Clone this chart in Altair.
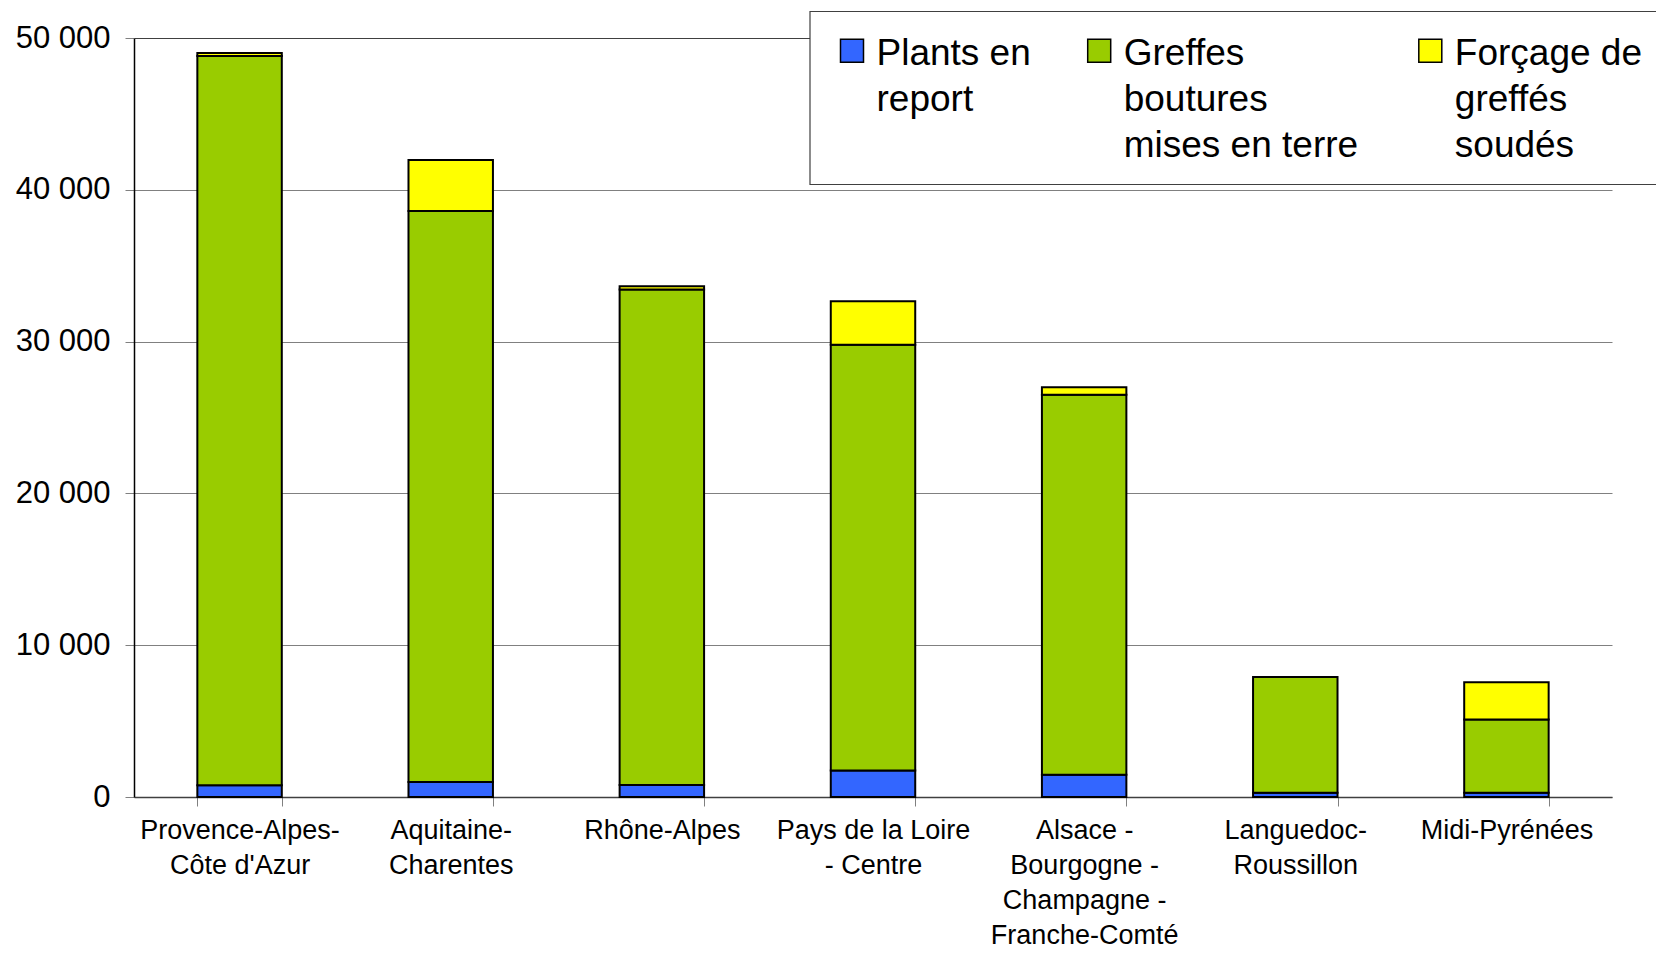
import altair as alt
import pandas as pd

regions = ["Provence-Alpes-|Côte d'Azur", "Aquitaine-|Charentes", "Rhône-Alpes",
           "Pays de la Loire|- Centre", "Alsace -|Bourgogne -|Champagne -|Franche-Comté",
           "Languedoc-|Roussillon", "Midi-Pyrénées"]
series = ["Plants en|report", "Greffes|boutures|mises en terre", "Forçage de|greffés|soudés"]
colors = ["#3366FF", "#99CC00", "#FFFF00"]

plants = [780, 980, 790, 1750, 1470, 280, 280]
greffes = [48030, 37620, 32640, 28040, 25030, 7620, 4830]
forcage = [200, 3360, 210, 2870, 490, 0, 2450]
y_ticks = [0, 10000, 20000, 30000, 40000, 50000]

rows = []
for i, r in enumerate(regions):
    for j, vals in enumerate([plants, greffes, forcage]):
        if vals[i] > 0:
            rows.append({"region": r, "series": series[j], "order": j, "value": vals[i]})
df = pd.DataFrame(rows)

FONT = "Liberation Sans"
W, H = 1478, 759

bars = alt.Chart(df).mark_bar(stroke="black", strokeWidth=2).encode(
    x=alt.X("region:N", sort=regions,
            scale=alt.Scale(paddingInner=0.6, paddingOuter=0.3),
            axis=alt.Axis(title=None, labelAngle=0, labelExpr="split(datum.label, '|')",
                          labelFont=FONT, labelFontSize=27, labelColor="black",
                          labelLineHeight=35, labelBaseline="top", labelPadding=11,
                          labelLimit=400, tickBand="extent", tickSize=9,
                          tickColor="#808080", domainColor="#404040", domainWidth=1.5,
                          grid=False)),
    y=alt.Y("value:Q", stack="zero",
            scale=alt.Scale(domain=[0, 50000], nice=False),
            axis=alt.Axis(title=None, values=y_ticks,
                          labelExpr="replace(format(datum.value, ','), ',', ' ')",
                          labelFont=FONT, labelFontSize=31, labelColor="black",
                          labelPadding=15, tickSize=9, tickColor="#808080",
                          domainColor="black", domainWidth=1.5,
                          gridColor={"condition": {"test": "datum.value === 50000",
                                                   "value": "#404040"},
                                     "value": "#808080"},
                          gridWidth=1)),
    color=alt.Color("series:N", sort=series,
                    scale=alt.Scale(domain=series, range=colors), legend=None),
    order=alt.Order("order:Q"),
)

# custom legend (layout positions in plot-area pixels)
box = alt.Chart(pd.DataFrame({"k": [0]})).mark_rect(
    fill="white", stroke="#404040", strokeWidth=1.2
).encode(x=alt.value(676), x2=alt.value(1580), y=alt.value(-26.5), y2=alt.value(146.5))

sym_x = [706.5, 953.7, 1284.8]
legend_layers = [box]
for j, s in enumerate(series):
    one = alt.Chart(pd.DataFrame({"s": [s]}))
    legend_layers.append(
        one.mark_rect(fill=colors[j], stroke="black", strokeWidth=1.5).encode(
            x=alt.value(sym_x[j]), x2=alt.value(sym_x[j] + 23),
            y=alt.value(1.2), y2=alt.value(24.2))
    )
    legend_layers.append(
        one.mark_text(align="left", baseline="alphabetic", lineBreak="|", lineHeight=46,
                      font=FONT, fontSize=37, color="black").encode(
            text="s:N", x=alt.value(sym_x[j] + 36), y=alt.value(26.5))
    )

chart = alt.layer(bars, *legend_layers).properties(
    width=W, height=H,
    autosize=alt.AutoSizeParams(type="none"),
    padding={"left": 126, "top": 30, "right": 44, "bottom": 153},
).configure_view(stroke=None)

chart.save("out.html", embed_options={"renderer": "svg", "actions": False})
